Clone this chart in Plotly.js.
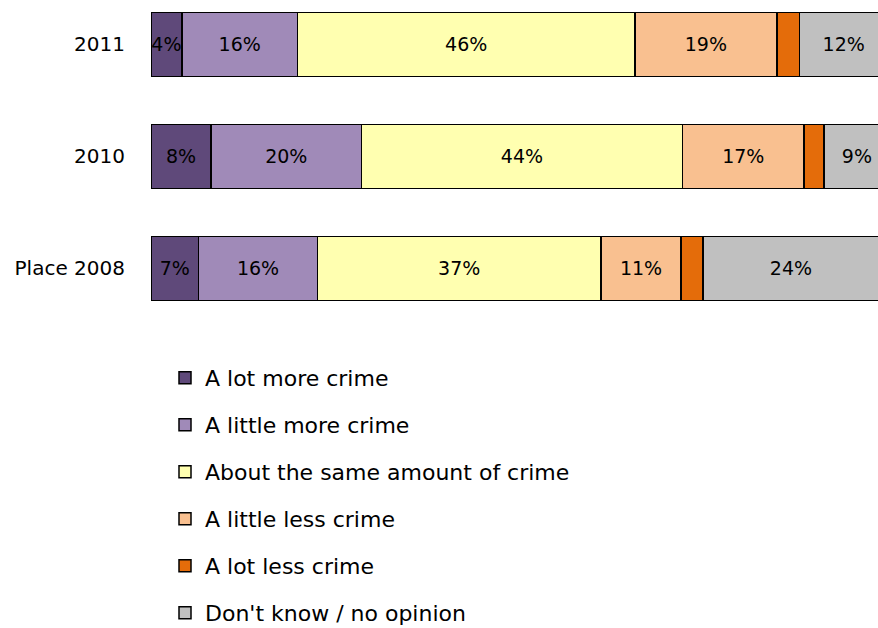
<!DOCTYPE html>
<html><head><meta charset="utf-8">
<script src="https://cdn.plot.ly/plotly-3.0.1.min.js"></script>
<style>body{margin:0;background:#fff}#chart{width:878px;height:628px}</style>
</head><body><div id="chart"></div>
<script>
const categories = ['Place 2008', '2010', '2011'];
const seriesNames = ['A lot more crime', 'A little more crime', 'About the same amount of crime', 'A little less crime', 'A lot less crime', "Don't know / no opinion"];
const lotMore    = [6.5, 8.2, 4.2];
const littleMore = [16.2, 20.5, 15.8];
const aboutSame  = [38.7, 43.8, 46.0];
const littleLess = [10.9, 16.6, 19.4];
const lotLess    = [3.0, 2.7, 3.1];
const dontKnow   = [24, 9, 12];
const lotMoreLbl    = ['7%', '8%', '4%'];
const littleMoreLbl = ['16%', '20%', '16%'];
const aboutSameLbl  = ['37%', '44%', '46%'];
const littleLessLbl = ['11%', '17%', '19%'];
const lotLessLbl    = ['', '', ''];
const dontKnowLbl   = ['24%', '9%', '12%'];
const colors = ['#5F497A', '#A08AB8', '#FFFFB0', '#F9C090', '#E46C0A', '#C0C0C0'];

const vals = [lotMore, littleMore, aboutSame, littleLess, lotLess, dontKnow];
const lbls = [lotMoreLbl, littleMoreLbl, aboutSameLbl, littleLessLbl, lotLessLbl, dontKnowLbl];

const font = '"DejaVu Sans", sans-serif';
const traces = vals.map((v, i) => ({
  type: 'bar', orientation: 'h', name: seriesNames[i], legendgroup: 'g' + i,
  y: categories, x: v, text: lbls[i], textposition: 'inside', insidetextanchor: 'middle',
  constraintext: 'none', textangle: 0, cliponaxis: true,
  textfont: {family: font, size: 19, color: '#000'},
  marker: {color: colors[i], line: {color: '#000', width: 1.5}},
  hoverinfo: 'skip'
}));

const layout = {
  width: 878, height: 628,
  margin: {l: 151, r: 0, t: 0, b: 298, autoexpand: false},
  barmode: 'stack', bargap: 0.43,
  paper_bgcolor: '#fff', plot_bgcolor: '#fff',
  xaxis: {range: [0, 99.18], showgrid: false, zeroline: false, showticklabels: false, showline: false, fixedrange: true},
  yaxis: {type: 'category', categoryarray: categories, range: [-0.55, 2.397], showgrid: false, zeroline: false, showline: false,
          ticks: '', ticklabelstandoff: 25, tickfont: {family: font, size: 20, color: '#000'}},
  showlegend: true,
  legend: {xref: 'container', yref: 'container', x: 165/878, y: 1 - 357/628, xanchor: 'left', yanchor: 'top',
           orientation: 'v', traceorder: 'grouped', tracegroupgap: 15.4, borderwidth: 0,
           font: {family: font, size: 22, color: '#000'}, bgcolor: 'rgba(0,0,0,0)'}
};
Plotly.newPlot('chart', traces, layout, {displayModeBar: false, staticPlot: true});
</script></body></html>
